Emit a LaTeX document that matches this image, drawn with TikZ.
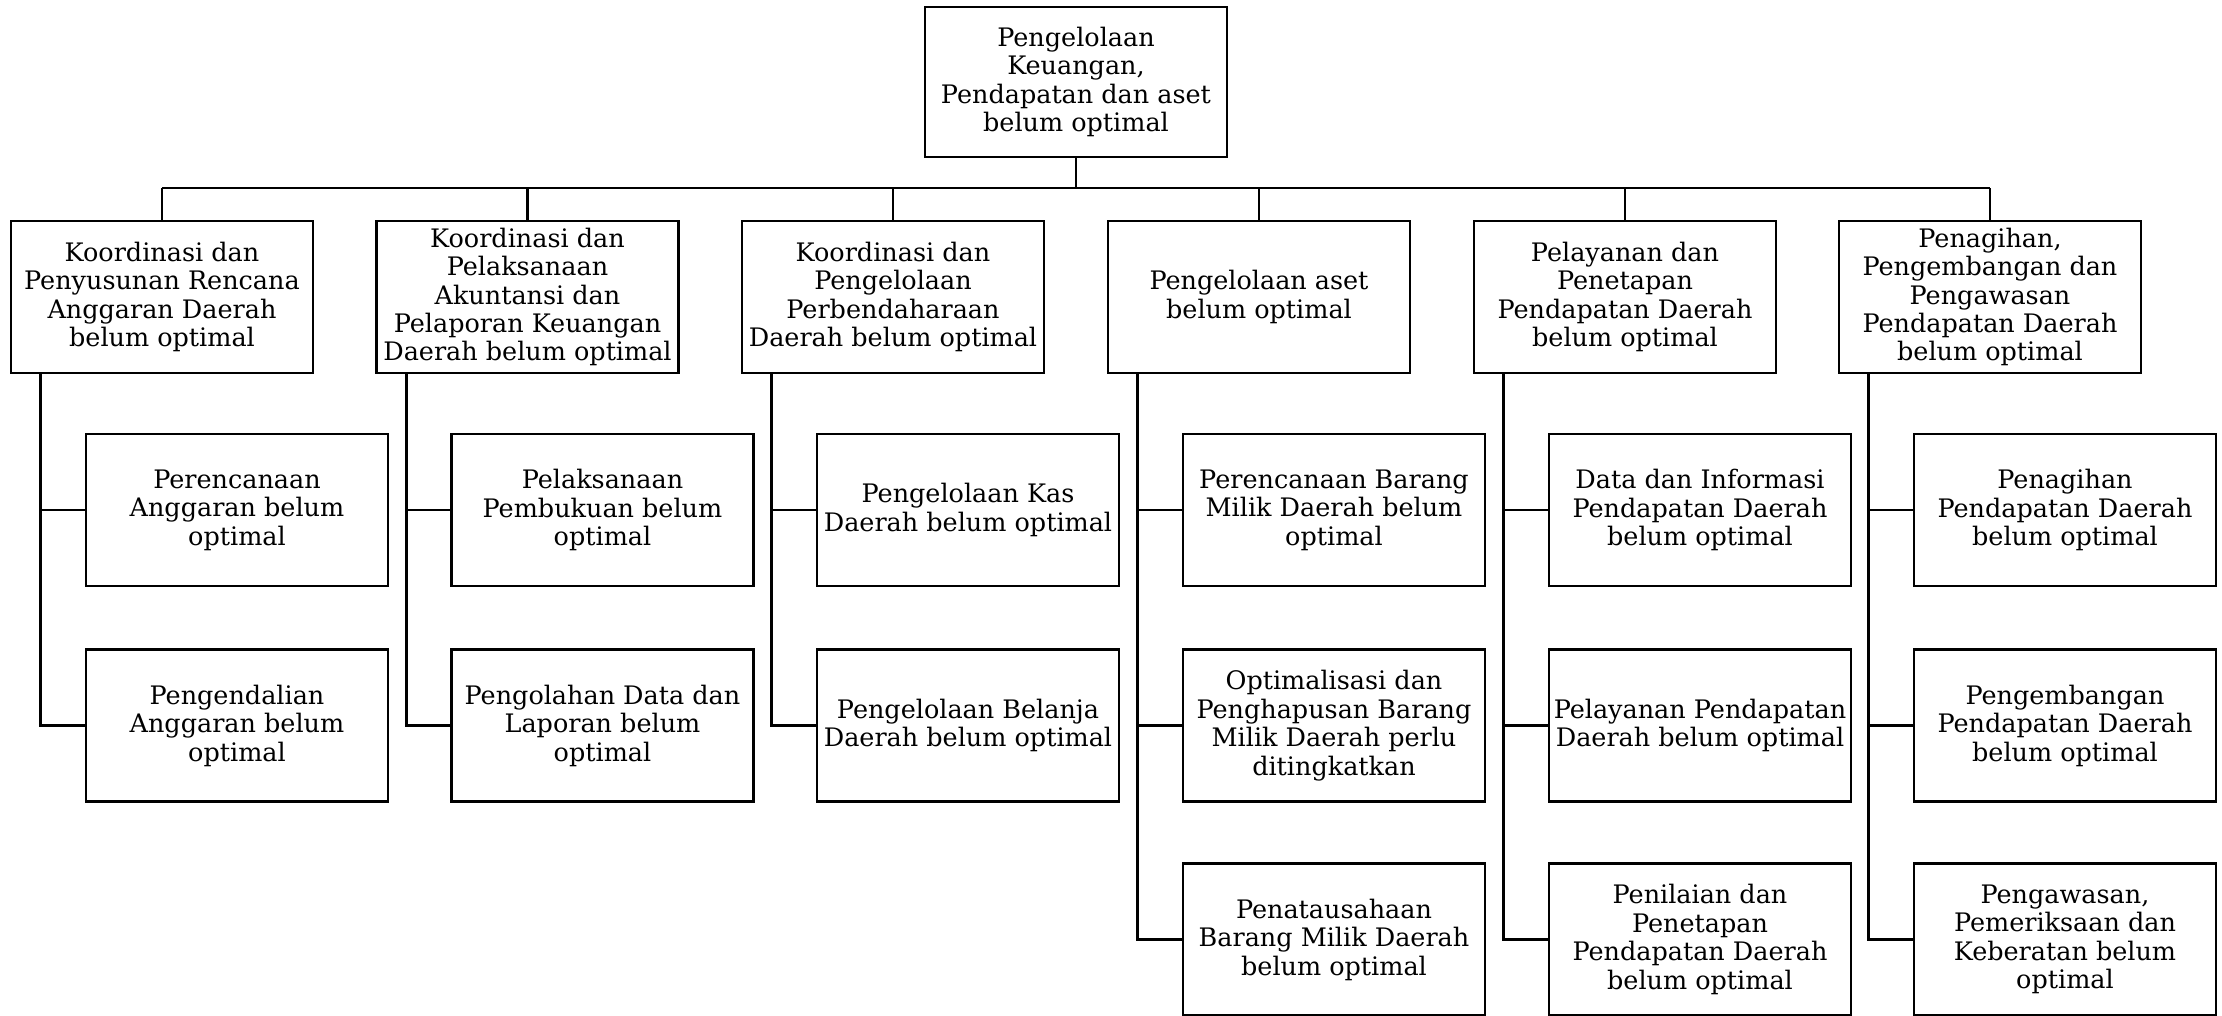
\documentclass[tikz,border=0pt]{standalone}
\usepackage{fontspec}
\setmainfont{DejaVu Serif}
\usetikzlibrary{positioning,calc}

\begin{document}
\begin{tikzpicture}[
    kotak/.style={rectangle, draw, line width=1.5pt, minimum width=6.04cm, minimum height=3.04cm, inner sep=0pt, align=center, font=\fontsize{14.5}{16.2}\selectfont},
    garis/.style={line width=1.5pt}
]
\useasboundingbox (0,0) rectangle (44.44,-20.32);

% Masalah utama
\node[kotak, minimum height=3.0cm] (top) at (21.52,-1.64) {Pengelolaan\\Keuangan,\\Pendapatan dan aset\\belum optimal};

% Level 1
\node[kotak] (p1) at (3.24,-5.94) {Koordinasi dan\\Penyusunan Rencana\\Anggaran Daerah\\belum optimal};
\node[kotak] (p2) at (10.55,-5.94) {Koordinasi dan\\Pelaksanaan\\Akuntansi dan\\Pelaporan Keuangan\\Daerah belum optimal};
\node[kotak] (p3) at (17.86,-5.94) {Koordinasi dan\\Pengelolaan\\Perbendaharaan\\Daerah belum optimal};
\node[kotak] (p4) at (25.18,-5.94) {Pengelolaan aset\\belum optimal};
\node[kotak] (p5) at (32.50,-5.94) {Pelayanan dan\\Penetapan\\Pendapatan Daerah\\belum optimal};
\node[kotak] (p6) at (39.80,-5.94) {Penagihan,\\Pengembangan dan\\Pengawasan\\Pendapatan Daerah\\belum optimal};

% Level 2
\node[kotak] (c11) at (4.74,-10.20) {Perencanaan\\Anggaran belum\\optimal};
\node[kotak] (c12) at (4.74,-14.51) {Pengendalian\\Anggaran belum\\optimal};
\node[kotak] (c21) at (12.05,-10.20) {Pelaksanaan\\Pembukuan belum\\optimal};
\node[kotak] (c22) at (12.05,-14.51) {Pengolahan Data dan\\Laporan belum\\optimal};
\node[kotak] (c31) at (19.36,-10.20) {Pengelolaan Kas\\Daerah belum optimal};
\node[kotak] (c32) at (19.36,-14.51) {Pengelolaan Belanja\\Daerah belum optimal};
\node[kotak] (c41) at (26.68,-10.20) {Perencanaan Barang\\Milik Daerah belum\\optimal};
\node[kotak] (c42) at (26.68,-14.51) {Optimalisasi dan\\Penghapusan Barang\\Milik Daerah perlu\\ditingkatkan};
\node[kotak] (c43) at (26.68,-18.79) {Penatausahaan\\Barang Milik Daerah\\belum optimal};
\node[kotak] (c51) at (34.00,-10.20) {Data dan Informasi\\Pendapatan Daerah\\belum optimal};
\node[kotak] (c52) at (34.00,-14.51) {Pelayanan Pendapatan\\Daerah belum optimal};
\node[kotak] (c53) at (34.00,-18.79) {Penilaian dan\\Penetapan\\Pendapatan Daerah\\belum optimal};
\node[kotak] (c61) at (41.30,-10.20) {Penagihan\\Pendapatan Daerah\\belum optimal};
\node[kotak] (c62) at (41.30,-14.51) {Pengembangan\\Pendapatan Daerah\\belum optimal};
\node[kotak] (c63) at (41.30,-18.79) {Pengawasan,\\Pemeriksaan dan\\Keberatan belum\\optimal};

% Garis penghubung
\coordinate (bus) at (0,-3.76);
\draw[garis] (top.south) -- (top.south |- bus);
\draw[garis] (p1.north |- bus) -- (p6.north |- bus);
\foreach \i in {1,...,6} {
    \draw[garis] (p\i.north |- bus) -- (p\i.north);
    \coordinate (t\i) at ($(p\i.south west)+(0.62,0)$);
}
\foreach \i in {1,2} {
    \foreach \j in {1,2} {
        \draw[garis] (t\i) |- (c\i\j.west);
    }
}
\draw[garis] (t3) |- (c31.west);
\draw[garis] (t3) |- (c32.west);
\foreach \i in {4,5,6} {
    \foreach \j in {1,2,3} {
        \draw[garis] (t\i) |- (c\i\j.west);
    }
}

\end{tikzpicture}
\end{document}
